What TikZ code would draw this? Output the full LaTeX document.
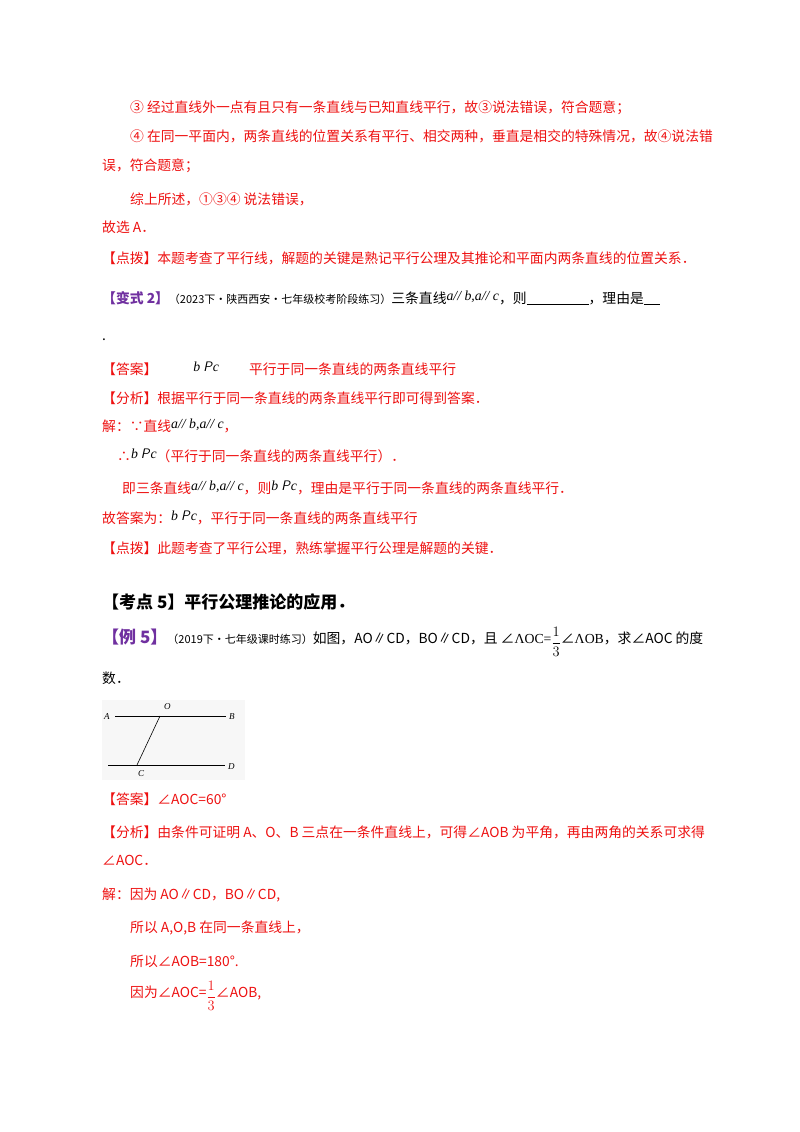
\documentclass[tikz,border=0pt]{standalone}
\usepackage{fontspec}
\setmainfont{Noto Sans CJK SC}
\newfontfamily\seritf{Liberation Serif Italic}
\newfontfamily\tms{Liberation Serif}
\definecolor{rd}{HTML}{EE1111}
\definecolor{pu}{HTML}{7030A0}
\newcommand{\iv}[1]{{\seritf #1}}
\newcommand{\thirdfrac}{\raisebox{-0.35ex}{$\displaystyle\frac{1}{3}$}}
\tikzset{t/.style={anchor=west,inner sep=0pt,font=\fontsize{13.8}{16}\selectfont},
 r/.style={t,text=rd}, k/.style={t,text=black}}
\begin{document}
\begin{tikzpicture}[x=1pt,y=-1pt]
\useasboundingbox[fill=white] (0,0) rectangle (800,1132);
\node[r] (l1) at (130,108) {③ 经过直线外一点有且只有一条直线与已知直线平行，故③说法错误，符合题意；};
\node[r] (l2) at (130,136) {④ 在同一平面内，两条直线的位置关系有平行、相交两种，垂直是相交的特殊情况，故④说法错};
\node[r] (l3) at (102,166) {误，符合题意；};
\node[r] (l4) at (130,199) {综上所述，①③④ 说法错误，};
\node[r] (l5) at (102,227) {故选 A．};
\node[r] (l6) at (102,258) {【点拨】本题考查了平行线，解题的关键是熟记平行公理及其推论和平面内两条直线的位置关系．};
\node[k] (v2) at (102,298) {\textcolor{pu}{\bfseries【变式 2】}{\fontsize{11}{13}\selectfont （2023下·陕西西安·七年级校考阶段练习）}三条直线\raisebox{3pt}{\iv{a// b,a// c}}，则\underline{\hspace{62pt}}，理由是\underline{\hspace{16pt}}};
\node[k] (dot) at (102,340) {.};
\node[r] (a1) at (102,369) {【答案】\hspace{36pt}\textcolor{black}{\raisebox{3pt}{\iv{b} \textsf{\itshape P}\iv{c}}}\hspace{30pt}平行于同一条直线的两条直线平行};
\node[r] (a2) at (102,398) {【分析】根据平行于同一条直线的两条直线平行即可得到答案．};
\node[r] (a3) at (102,426) {解：∵直线\raisebox{3pt}{\textcolor{black}{\iv{a// b,a// c}}}，};
\node[r] (a4) at (117,456) {∴\textcolor{black}{\raisebox{3pt}{\iv{b} \textsf{\itshape P}\iv{c}}}（平行于同一条直线的两条直线平行）．};
\node[r] (a5) at (122,488) {即三条直线\textcolor{black}{\raisebox{3pt}{\iv{a// b,a// c}}}，则\textcolor{black}{\raisebox{3pt}{\iv{b} \textsf{\itshape P}\iv{c}}}，理由是平行于同一条直线的两条直线平行．};
\node[r] (a6) at (102,518) {故答案为：\textcolor{black}{\raisebox{3pt}{\iv{b} \textsf{\itshape P}\iv{c}}}，平行于同一条直线的两条直线平行};
\node[r] (a7) at (102,548) {【点拨】此题考查了平行公理，熟练掌握平行公理是解题的关键．};
\node[k,font=\fontsize{17}{20}\selectfont\bfseries] (kd) at (102,602) {【考点 5】平行公理推论的应用．};
\node[k] (e5) at (102,642) {\textcolor{pu}{\fontsize{17}{20}\selectfont\bfseries【例 5】}{\fontsize{11}{13}\selectfont （2019下·七年级课时练习）}如图，AO∥CD，BO∥CD，且 ∠{\tms ΛOC=}\thirdfrac∠{\tms ΛOB}，求∠AOC 的度};
\node[k] (e6) at (102,678) {数．};
% figure
\fill[gray!6] (102,700) rectangle (245,780);
\coordinate (pA) at (115,716); \coordinate (pB) at (226,716);
\coordinate (pC1) at (108,765); \coordinate (pD) at (225,765);
\coordinate (pO) at (160,716); \coordinate (pC) at (137,765);
\draw[line width=0.6pt] (pA) -- (pB);
\draw[line width=0.6pt] (pC1) -- (pD);
\draw[line width=0.6pt] (pO) -- (pC);
\node[k,font=\seritf\small] (tA) at (104,717) {A};
\node[k,font=\seritf\small] (tO) at (164,707) {O};
\node[k,font=\seritf\small] (tB) at (229,717) {B};
\node[k,font=\seritf\small] (tC) at (138,774) {C};
\node[k,font=\seritf\small] (tD) at (228,767) {D};
\node[r] (b1) at (102,799) {【答案】∠AOC=60°};
\node[r] (b2) at (102,832) {【分析】由条件可证明 A、O、B 三点在一条件直线上，可得∠AOB 为平角，再由两角的关系可求得};
\node[r] (b3) at (102,860) {∠AOC．};
\node[r] (b4) at (102,895) {解：因为 AO∥CD，BO∥CD,};
\node[r] (b5) at (130,928) {所以 A,O,B 在同一条直线上，};
\node[r] (b6) at (130,961) {所以∠AOB=180°.};
\node[r] (b7) at (130,996) {因为∠AOC=\thirdfrac∠AOB,};
\end{tikzpicture}
\end{document}
